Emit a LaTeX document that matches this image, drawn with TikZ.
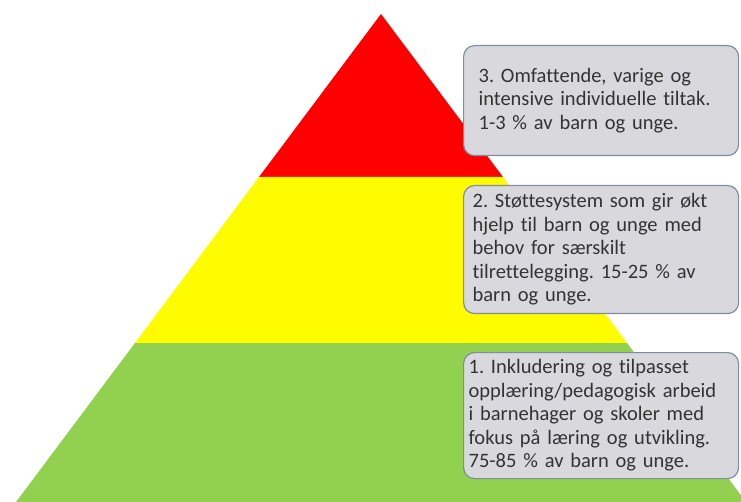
\documentclass[tikz,border=0pt]{standalone}
\usepackage{fontspec}
\setmainfont[Ligatures=NoCommon]{Carlito}
\frenchspacing
\definecolor{tipred}{HTML}{FF0000}
\definecolor{tipyellow}{HTML}{FFFC00}
\definecolor{tipgreen}{HTML}{92D050}
\definecolor{boxfill}{HTML}{D9D9DD}
\definecolor{boxedge}{HTML}{7F8CA3}

\begin{document}
\begin{tikzpicture}[x=1pt, y=-1pt,
  tier/.style={draw=boxedge, fill=boxfill, line width=1.2pt, rounded corners=11pt,
    anchor=north west, align=left, inner ysep=0pt, text=black!80,
    font=\fontsize{20.5}{23.5}\selectfont}]
  \useasboundingbox (0,0) rectangle (741,502);
  \coordinate (apex) at (381,14);
  \coordinate (redL) at (259,177);
  \coordinate (redR) at (503,177);
  \coordinate (yelL) at (135,343);
  \coordinate (yelR) at (627,343);
  \coordinate (botL) at (16,502);
  \coordinate (botR) at (746,502);

  % the three tiers
  \fill[tipred] (apex) -- (redL) -- (redR) -- cycle;
  \fill[tipyellow] (redL) -- (yelL) -- (yelR) -- (redR) -- cycle;
  \fill[tipgreen] (yelL) -- (botL) -- (botR) -- (yelR) -- cycle;

  % the texts
  \node[tier, text width=245pt, inner xsep=15pt, minimum height=110pt] (three) at (463,45)
    {3. Omfattende, varige og\\intensive individuelle tiltak.\\1-3 \% av barn og unge.};
  \node[tier, text width=257pt, inner xsep=9pt, minimum height=128pt] (two) at (463,185)
    {2. Støttesystem som gir økt\\hjelp til barn og unge med\\behov for særskilt\\tilrettelegging. 15-25 \% av\\barn og unge.};
  \node[tier, text width=265pt, inner xsep=5pt, minimum height=126pt] (one) at (463,352)
    {1. Inkludering og tilpasset\\opplæring/pedagogisk arbeid\\i barnehager og skoler med\\fokus på læring og utvikling.\\75-85 \% av barn og unge.};
\end{tikzpicture}
\end{document}
